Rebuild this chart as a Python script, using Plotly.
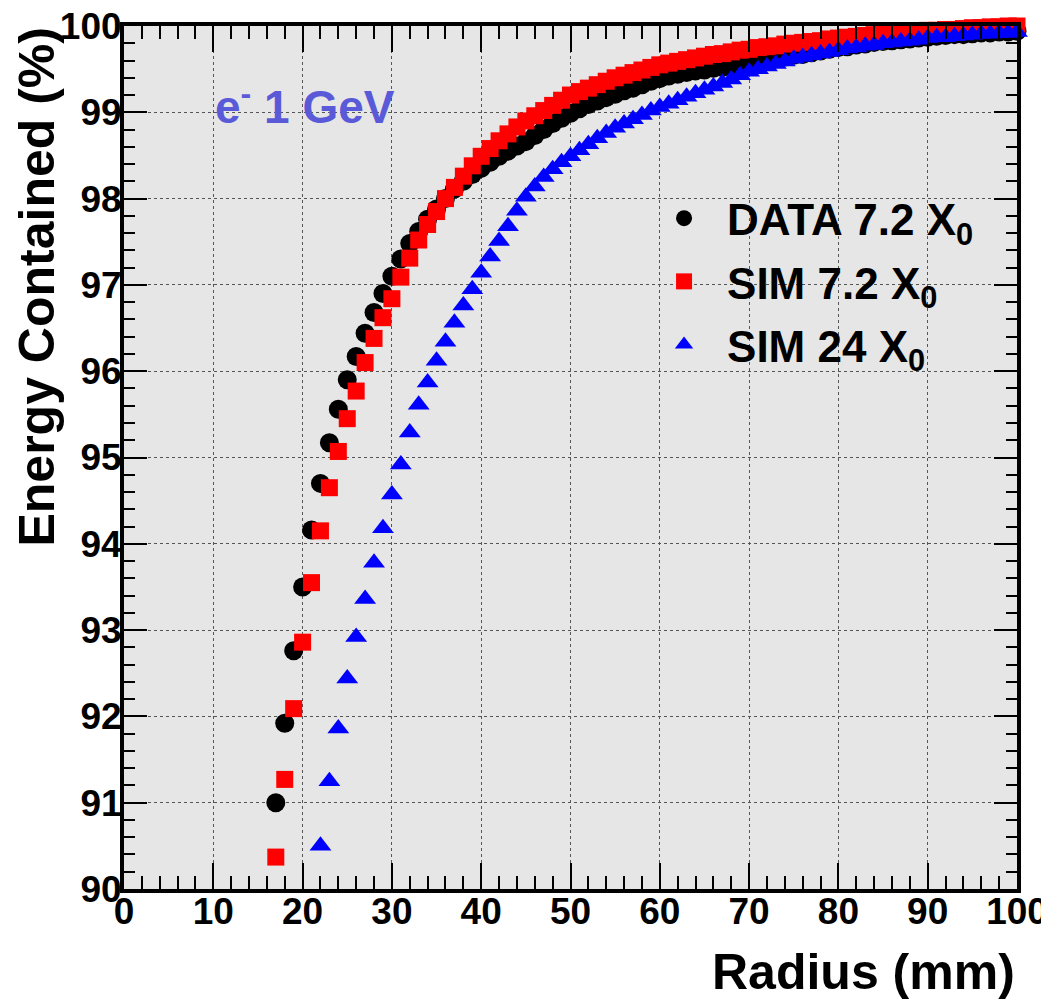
import plotly.graph_objects as go

# ---------------- data ----------------
radius_data = list(range(17, 101))
data_72 = [91.00, 91.92, 92.76, 93.50, 94.16, 94.70, 95.17, 95.56, 95.90, 96.17,   # 17-26
           96.44, 96.68, 96.90, 97.10, 97.30, 97.48, 97.62, 97.76, 97.88, 98.00,   # 27-36
           98.11, 98.20, 98.28, 98.35, 98.42, 98.49, 98.55, 98.61, 98.66, 98.73,   # 37-46
           98.80, 98.87, 98.93, 98.99, 99.04, 99.09, 99.13, 99.17, 99.21, 99.25,   # 47-56
           99.28, 99.32, 99.36, 99.39, 99.42, 99.44, 99.46, 99.48, 99.49, 99.51,   # 57-66
           99.52, 99.54, 99.55, 99.56, 99.58, 99.60, 99.62, 99.64, 99.66, 99.67,   # 67-76
           99.69, 99.71, 99.73, 99.75, 99.76, 99.78, 99.79, 99.81, 99.82, 99.83,   # 77-86
           99.84, 99.85, 99.86, 99.87, 99.88, 99.89, 99.90, 99.90, 99.91, 99.92,   # 87-96
           99.92, 99.93, 99.93, 99.94]                                             # 97-100

radius_sim72 = list(range(17, 101))
sim_72 = [90.37, 91.27, 92.09, 92.86, 93.55, 94.15, 94.65, 95.07, 95.45, 95.77,
          96.10, 96.38, 96.62, 96.84, 97.09, 97.31, 97.52, 97.70, 97.85, 98.00,
          98.13, 98.26, 98.38, 98.49, 98.58, 98.67, 98.75, 98.83, 98.90, 98.96,
          99.02, 99.08, 99.14, 99.20, 99.24, 99.28, 99.32, 99.36, 99.40, 99.43,
          99.46, 99.49, 99.52, 99.55, 99.57, 99.59, 99.61, 99.63, 99.65, 99.67,
          99.68, 99.70, 99.72, 99.73, 99.75, 99.76, 99.77, 99.79, 99.80, 99.81,
          99.82, 99.83, 99.85, 99.86, 99.87, 99.88, 99.89, 99.90, 99.91, 99.92,
          99.92, 99.93, 99.94, 99.95, 99.95, 99.96, 99.96, 99.97, 99.98, 99.98,
          99.99, 99.99, 100.00, 100.00]

radius_sim24 = list(range(22, 101))
sim_24 = [90.50, 91.25, 91.86, 92.44, 92.92, 93.36, 93.78, 94.18, 94.57, 94.92,
          95.29, 95.61, 95.87, 96.12, 96.34, 96.56, 96.76, 96.95, 97.14, 97.33,
          97.51, 97.68, 97.86, 98.02, 98.14, 98.25, 98.34, 98.42, 98.49, 98.56,
          98.63, 98.70, 98.76, 98.82, 98.87, 98.92, 98.97, 99.02, 99.06, 99.10,
          99.14, 99.18, 99.22, 99.26, 99.30, 99.34, 99.38, 99.43, 99.47, 99.50,
          99.53, 99.56, 99.59, 99.62, 99.64, 99.66, 99.68, 99.70, 99.72, 99.74,
          99.75, 99.77, 99.78, 99.80, 99.81, 99.82, 99.83, 99.84, 99.86, 99.87,
          99.87, 99.88, 99.89, 99.90, 99.91, 99.91, 99.92, 99.92, 99.93]

series_names = ["DATA 7.2 X<sub>0</sub>", "SIM 7.2 X<sub>0</sub>", "SIM 24 X<sub>0</sub>"]
x_ticks = [0, 10, 20, 30, 40, 50, 60, 70, 80, 90, 100]
y_ticks = [90, 91, 92, 93, 94, 95, 96, 97, 98, 99, 100]

FONT = "Liberation Sans"

fig = go.Figure()
fig.add_trace(go.Scatter(x=radius_data, y=data_72, mode="markers", name=series_names[0],
                         legendgroup="a",
                         marker=dict(symbol="circle", size=19, color="black", line=dict(width=0)),
                         cliponaxis=False))
fig.add_trace(go.Scatter(x=radius_sim72, y=sim_72, mode="markers", name=series_names[1],
                         legendgroup="b",
                         marker=dict(symbol="square", size=17, color="#ff0000", line=dict(width=0)),
                         cliponaxis=False))
fig.add_trace(go.Scatter(x=radius_sim24, y=sim_24, mode="markers", name=series_names[2],
                         legendgroup="c",
                         marker=dict(symbol="triangle-up", size=19, color="#0000ff", line=dict(width=0)),
                         cliponaxis=False))

axis_common = dict(
    showline=True, linecolor="black", linewidth=4, mirror="allticks",
    ticks="inside", tickcolor="black", tickwidth=2,
    showgrid=True, gridcolor="#555555", gridwidth=1, griddash="dot",
    zeroline=False, automargin=False, ticklabeloverflow="allow",
    tickfont=dict(family=FONT, size=37, color="black", weight="bold"),
)

fig.update_xaxes(range=[0, 100], tickvals=x_ticks, ticklen=26,
                 minor=dict(ticks="inside", ticklen=13, dtick=2, tickcolor="black", tickwidth=2, showgrid=False),
                 ticklabelstandoff=-13, **axis_common)
fig.update_yaxes(range=[90, 100], tickvals=y_ticks, ticklen=23,
                 minor=dict(ticks="inside", ticklen=11, dtick=0.2, tickcolor="black", tickwidth=2, showgrid=False),
                 ticklabelstandoff=-9, **axis_common)

# the page body has an 8px margin, so the figure is shifted accordingly
fig.update_layout(
    width=1041, height=996,
    margin=dict(l=116, r=32, t=18, b=115, autoexpand=False),
    paper_bgcolor="white", plot_bgcolor="#e6e6e6",
    font=dict(family=FONT, color="black"),
    showlegend=True,
    legend=dict(x=0.579, y=0.818, xanchor="left", yanchor="top",
                bgcolor="rgba(0,0,0,0)", borderwidth=0,
                font=dict(family=FONT, size=44, color="black", weight="bold"),
                traceorder="grouped", tracegroupgap=3, itemwidth=76),
    annotations=[
        dict(text="e<sup>-</sup> 1 GeV", xref="paper", yref="paper", x=0.1, y=0.91,
             xanchor="left", yanchor="middle", showarrow=False,
             font=dict(family=FONT, size=46, color="#5a5ad8", weight="bold")),
        dict(text="Energy Contained (%)", xref="paper", yref="paper", x=-0.0985, y=1.0,
             xanchor="center", yanchor="top", textangle=-90, showarrow=False,
             font=dict(family=FONT, size=50, color="black", weight="bold")),
        dict(text="Radius (mm)", xref="paper", yref="paper", x=1.0, y=-0.096,
             xanchor="right", yanchor="middle", showarrow=False,
             font=dict(family=FONT, size=50, color="black", weight="bold")),
    ],
)

fig.write_html("out.html")
